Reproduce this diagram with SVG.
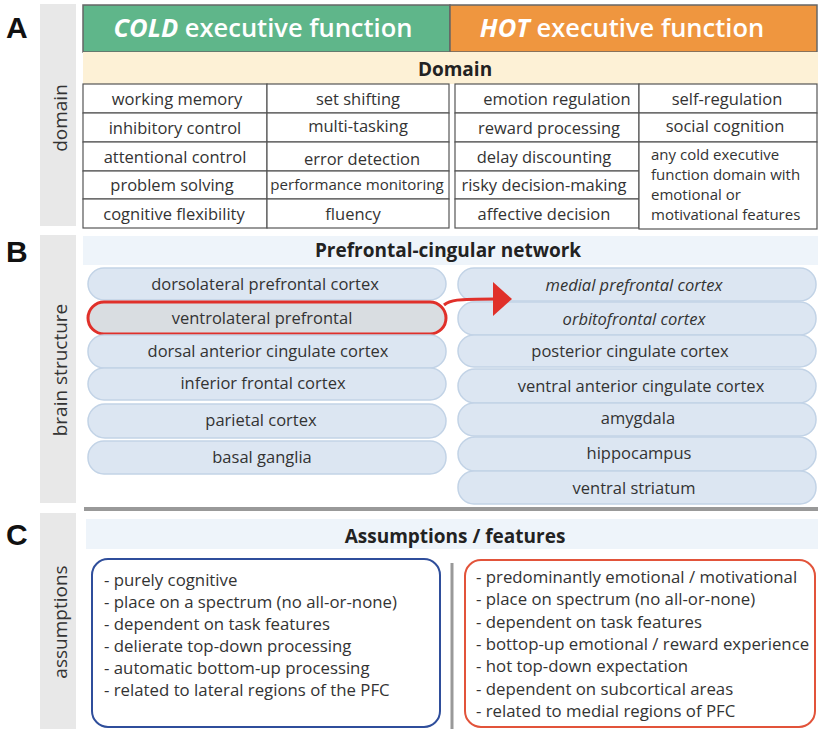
<svg xmlns="http://www.w3.org/2000/svg" width="818" height="729" viewBox="0 0 818 729">
<style>
  .lbl{font-family:"Liberation Sans",Arial,sans-serif;font-weight:bold;font-size:30px;fill:#111}
  .side{fill:#E8E8E8}
  .vt{font-family:"Open Sans","Noto Sans",sans-serif;font-size:19px;fill:#333;text-anchor:middle}
  .hd{font-family:"Open Sans","Noto Sans",sans-serif;font-weight:600;font-size:25.5px;fill:#fff;text-anchor:middle}
  .bh{font-family:"Open Sans","Noto Sans",sans-serif;font-weight:bold;font-size:19px;fill:#222;text-anchor:middle}
  .cell{fill:#fff;stroke:#555;stroke-width:1.2}
  .t{font-family:"Open Sans","Noto Sans",sans-serif;font-size:16.5px;fill:#333;text-anchor:middle}
  .t.sm{font-size:15.1px}
  .ts{font-family:"Open Sans","Noto Sans",sans-serif;font-size:15px;fill:#333}
  .pill{fill:#DCE6F2;stroke:#C2D3E6;stroke-width:1.5}
  .it{font-style:italic}
  .lt{font-family:"Open Sans","Noto Sans",sans-serif;font-size:16.8px;fill:#333}
</style>

<!-- section letters and side bars -->
<text class="lbl" x="6" y="38">A</text>
<text class="lbl" x="6" y="262">B</text>
<text class="lbl" x="6" y="545">C</text>
<rect class="side" x="40" y="4" width="36" height="222"/>
<rect class="side" x="40" y="235" width="36" height="268"/>
<rect class="side" x="40" y="513" width="36" height="216"/>
<text class="vt" transform="translate(67,118) rotate(-90)">domain</text>
<text class="vt" transform="translate(67,370) rotate(-90)">brain structure</text>
<text class="vt" transform="translate(67,622) rotate(-90)">assumptions</text>

<!-- Section A headers -->
<g id="cold-header">
  <rect x="83" y="5" width="367" height="47" fill="#5FB68A" stroke="#666" stroke-width="1.5"/>
  <text class="hd" x="263" y="37"><tspan font-style="italic" font-weight="bold">COLD</tspan> executive function</text>
</g>
<g id="hot-header">
  <rect x="450" y="5" width="367" height="47" fill="#EF963F" stroke="#666" stroke-width="1.5"/>
  <text class="hd" x="622" y="37"><tspan font-style="italic" font-weight="bold">HOT</tspan> executive function</text>
</g>
<g id="domain-band">
  <rect x="83" y="52" width="735" height="32" fill="#FDF1D6"/>
  <text class="bh" x="455" y="76">Domain</text>
</g>

<!-- Cold domain table -->
<g id="cold-domains">
  <rect class="cell" x="83" y="84" width="184" height="29"/>
  <rect class="cell" x="267" y="84" width="182" height="29"/>
  <rect class="cell" x="83" y="113" width="184" height="29"/>
  <rect class="cell" x="267" y="113" width="182" height="29"/>
  <rect class="cell" x="83" y="142" width="184" height="29"/>
  <rect class="cell" x="267" y="142" width="182" height="29"/>
  <rect class="cell" x="83" y="171" width="184" height="28"/>
  <rect class="cell" x="267" y="171" width="182" height="28"/>
  <rect class="cell" x="83" y="199" width="184" height="29"/>
  <rect class="cell" x="267" y="199" width="182" height="29"/>
  <text class="t" x="177" y="105">working memory</text>
  <text class="t" x="358" y="105">set shifting</text>
  <text class="t" x="175" y="134">inhibitory control</text>
  <text class="t" x="358" y="132">multi-tasking</text>
  <text class="t" x="175" y="163">attentional control</text>
  <text class="t" x="362" y="165">error detection</text>
  <text class="t" x="172" y="191">problem solving</text>
  <text class="t sm" x="357" y="190">performance monitoring</text>
  <text class="t" x="174" y="220">cognitive flexibility</text>
  <text class="t" x="353" y="220">fluency</text>
</g>

<!-- Hot domain table -->
<g id="hot-domains">
  <rect class="cell" x="455" y="84" width="184" height="29"/>
  <rect class="cell" x="639" y="84" width="178" height="29"/>
  <rect class="cell" x="455" y="113" width="184" height="29"/>
  <rect class="cell" x="639" y="113" width="178" height="29"/>
  <rect class="cell" x="455" y="142" width="184" height="29"/>
  <rect class="cell" x="455" y="171" width="184" height="28"/>
  <rect class="cell" x="455" y="199" width="184" height="29"/>
  <rect class="cell" x="639" y="142" width="178" height="87"/>
  <text class="t" x="557" y="105">emotion regulation</text>
  <text class="t" x="549" y="134">reward processing</text>
  <text class="t" x="727" y="105">self-regulation</text>
  <text class="t" x="725" y="132">social cognition</text>
  <text class="t" x="544" y="163">delay discounting</text>
  <text class="t" x="544" y="191">risky decision-making</text>
  <text class="t" x="544" y="220">affective decision</text>
  <text class="ts" x="651" y="160">any cold executive</text>
  <text class="ts" x="651" y="180">function domain with</text>
  <text class="ts" x="651" y="200">emotional or</text>
  <text class="ts" x="651" y="220">motivational features</text>
</g>

<!-- Section B -->
<g id="network-band">
  <rect x="83" y="236" width="735" height="29" fill="#EEF4FA"/>
  <text class="bh" x="448" y="257">Prefrontal-cingular network</text>
</g>

<g id="dlpfc"><rect class="pill" x="88" y="268" width="358" height="32" rx="16"/><text class="t" x="265" y="290">dorsolateral prefrontal cortex</text></g>
<g id="vlpfc"><rect x="88" y="302" width="358" height="32" rx="16" fill="#D9DDE1" stroke="#E0302A" stroke-width="3"/><text class="t" x="262" y="324">ventrolateral prefrontal</text></g>
<g id="dacc"><rect class="pill" x="88" y="335" width="358" height="33" rx="16"/><text class="t" x="268" y="357">dorsal anterior cingulate cortex</text></g>
<g id="ifc"><rect class="pill" x="88" y="368" width="358" height="32" rx="16"/><text class="t" x="263" y="389">inferior frontal cortex</text></g>
<g id="parietal"><rect class="pill" x="88" y="404" width="358" height="34" rx="17"/><text class="t" x="261" y="426">parietal cortex</text></g>
<g id="basal-ganglia"><rect class="pill" x="88" y="441" width="358" height="33" rx="16"/><text class="t" x="262" y="463">basal ganglia</text></g>

<g id="mpfc"><rect class="pill" x="458" y="268" width="358" height="33" rx="16"/><text class="t it" x="634" y="291">medial prefrontal cortex</text></g>
<g id="ofc"><rect class="pill" x="458" y="302" width="358" height="33" rx="16"/><text class="t it" x="634" y="325">orbitofrontal cortex</text></g>
<g id="pcc"><rect class="pill" x="458" y="335" width="358" height="32" rx="16"/><text class="t" x="630" y="357">posterior cingulate cortex</text></g>
<g id="vacc"><rect class="pill" x="458" y="369" width="358" height="34" rx="17"/><text class="t" x="641" y="392">ventral anterior cingulate cortex</text></g>
<g id="amygdala"><rect class="pill" x="458" y="403" width="358" height="33" rx="16"/><text class="t" x="638" y="424">amygdala</text></g>
<g id="hippocampus"><rect class="pill" x="458" y="437" width="358" height="34" rx="17"/><text class="t" x="639" y="459">hippocampus</text></g>
<g id="ventral-striatum"><rect class="pill" x="458" y="471" width="358" height="33" rx="16"/><text class="t" x="634" y="494">ventral striatum</text></g>

<g id="connectors">
  <path d="M444 305 C450 300 456 299 495 299" fill="none" stroke="#E0302A" stroke-width="3"/>
  <polygon points="493,282 512,299 493,316" fill="#E0302A"/>
</g>

<line x1="84" y1="509" x2="818" y2="509" stroke="#999" stroke-width="4"/>

<!-- Section C -->
<g id="assumptions-band">
  <rect x="86" y="519" width="732" height="30" fill="#EEF4FA"/>
  <text class="bh" x="455" y="543">Assumptions / features</text>
</g>
<line x1="452" y1="563" x2="452" y2="729" stroke="#999" stroke-width="3"/>

<g id="cold-assumptions">
  <rect x="92" y="559" width="348" height="168" rx="16" fill="#fff" stroke="#2F4E9B" stroke-width="2"/>
  <text class="lt" x="104" y="586">- purely cognitive</text>
  <text class="lt" x="104" y="608">- place on a spectrum (no all-or-none)</text>
  <text class="lt" x="104" y="630">- dependent on task features</text>
  <text class="lt" x="104" y="652">- delierate top-down processing</text>
  <text class="lt" x="104" y="674">- automatic bottom-up processing</text>
  <text class="lt" x="104" y="696">- related to lateral regions of the PFC</text>
</g>
<g id="hot-assumptions">
  <rect x="465" y="560" width="350" height="167" rx="16" fill="#fff" stroke="#E2533A" stroke-width="2"/>
  <text class="lt" x="476" y="583">- predominantly emotional / motivational</text>
  <text class="lt" x="476" y="605">- place on spectrum (no all-or-none)</text>
  <text class="lt" x="476" y="628">- dependent on task features</text>
  <text class="lt" x="476" y="650">- bottop-up emotional / reward experience</text>
  <text class="lt" x="476" y="672">- hot top-down expectation</text>
  <text class="lt" x="476" y="695">- dependent on subcortical areas</text>
  <text class="lt" x="476" y="717">- related to medial regions of PFC</text>
</g>
</svg>
